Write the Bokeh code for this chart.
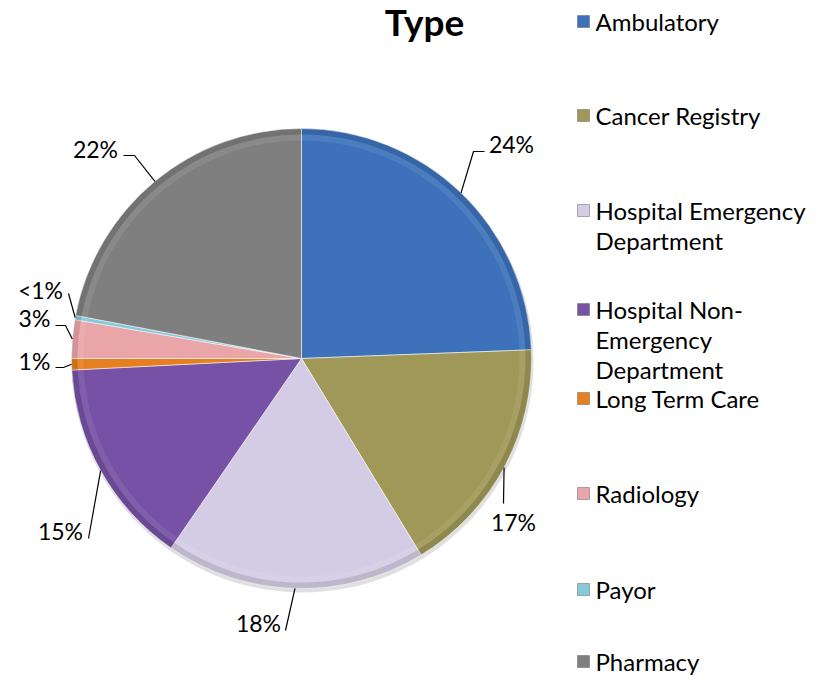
import math
import re
from bokeh.plotting import figure
from bokeh.models import Range1d, ColumnDataSource
from bokeh.core.properties import value
from bokeh.embed import file_html
from bokeh.resources import INLINE

# ---------------- data ----------------
title = "Type"
categories = ["Ambulatory", "Cancer Registry", "Hospital Emergency Department",
              "Hospital Non-Emergency Department", "Long Term Care", "Radiology",
              "Payor", "Pharmacy"]
values = [24.4, 16.9, 18.3, 14.6, 0.8, 2.7, 0.3, 22.0]
colors = ["#3D72BA", "#9F9858", "#D4CCE4", "#7751A5", "#E57F1F", "#EAA5A8",
          "#86C9DA", "#7F7F7F"]

# ---------------- layout (picture px) ----------------
W, H = 810, 680
CX, CY, R = 301, 358, 230
FONT = "Lato"

# text centres of the percentage labels, and leader elbow points
label_pos = [(511, 143), (513, 521), (258, 622), (60, 530), (34, 360),
             (34, 317), (40, 289), (95, 148)]
leader_pts = [[(473, 151), (484, 151)], [(503, 503)], [(285, 630)],
              [(88, 538)], [(63, 367), (55, 367)], [(65, 325), (55, 325)],
              [(68, 293)], [(134, 155), (123, 155)]]

legend_y = [21, 115, 210, 309, 398, 493, 589, 661]
legend_sq_x, legend_text_x = 583, 595
legend_line_h = 30


def Y(s):
    return H - s


def X(s):
    return s


def wrap(txt, width=18):
    toks = re.findall(r"[^ \-]+-?\s?|\s", txt)
    lines, cur = [], ""
    for t in toks:
        if cur and len((cur + t).rstrip()) > width:
            lines.append(cur.rstrip())
            cur = t
        else:
            cur += t
    if cur.strip():
        lines.append(cur.rstrip())
    return lines


def fmt(v):
    return "<1%" if v < 0.5 else f"{round(v)}%"


p = figure(width=W, height=H, output_backend="svg", toolbar_location=None,
           x_range=Range1d(0, W), y_range=Range1d(0, H),
           x_axis_location=None, y_axis_location=None, min_border=0,
           outline_line_color=None, background_fill_color="white",
           border_fill_color="white")
p.grid.visible = False

total = sum(values)
starts, ends, mids = [], [], []
cum = 0.0
for v in values:
    a0 = cum / total * 2 * math.pi
    cum += v
    a1 = cum / total * 2 * math.pi
    starts.append(math.pi / 2 - a1)
    ends.append(math.pi / 2 - a0)
    mids.append((a0 + a1) / 2)

# soft shadow
p.circle(x=[X(CX + 1)], y=[Y(CY + 3)], radius=R + 1, fill_color="#000000",
         fill_alpha=0.12, line_color=None)

src = ColumnDataSource(dict(x=[X(CX)] * len(values), y=[Y(CY)] * len(values),
                            start=starts, end=ends, color=colors))
p.wedge(x="x", y="y", radius=R, start_angle="start", end_angle="end",
        fill_color="color", line_color="white", line_alpha=0.55, line_width=1,
        source=src)
# bevel-like outer rim
p.annular_wedge(x="x", y="y", inner_radius=R - 6, outer_radius=R,
                start_angle="start", end_angle="end", fill_color="#000000",
                fill_alpha=0.10, line_color=None, source=src)
p.annular_wedge(x="x", y="y", inner_radius=R - 12, outer_radius=R - 6,
                start_angle="start", end_angle="end", fill_color="#ffffff",
                fill_alpha=0.08, line_color=None, source=src)

# leader lines
lx, ly = [], []
for m, pts in zip(mids, leader_pts):
    ex = CX + R * math.sin(m)
    ey = CY - R * math.cos(m)
    xs = [X(ex)] + [X(px) for px, _ in pts]
    ys = [Y(ey)] + [Y(py) for _, py in pts]
    lx.append(xs)
    ly.append(ys)
p.multi_line(xs=lx, ys=ly, line_color="black", line_width=1.2)

p.text(x=[X(px) for px, _ in label_pos], y=[Y(py) for _, py in label_pos],
       text=[fmt(v) for v in values], text_font=value(FONT),
       text_font_size="23px", text_align="center", text_baseline="middle",
       text_color="black")

# title
p.text(x=[X(424)], y=[Y(21)], text=[title], text_font=value(FONT),
       text_font_size="37px", text_font_style="bold", text_align="center",
       text_baseline="alphabetic", text_color="black")

# legend
p.rect(x=[X(legend_sq_x)] * len(categories), y=[Y(v) for v in legend_y],
       width=12, height=12, fill_color=colors, line_color="#666666",
       line_alpha=0.5)
tx, ty, tt = [], [], []
for cat, ly0 in zip(categories, legend_y):
    for i, line in enumerate(wrap(cat)):
        tx.append(X(legend_text_x))
        ty.append(Y(ly0 + i * legend_line_h))
        tt.append(line)
p.text(x=tx, y=ty, text=tt, text_font=value(FONT), text_font_size="24px",
       text_align="left", text_baseline="middle", text_color="black")

open("out.html", "w").write(file_html(p, INLINE))
